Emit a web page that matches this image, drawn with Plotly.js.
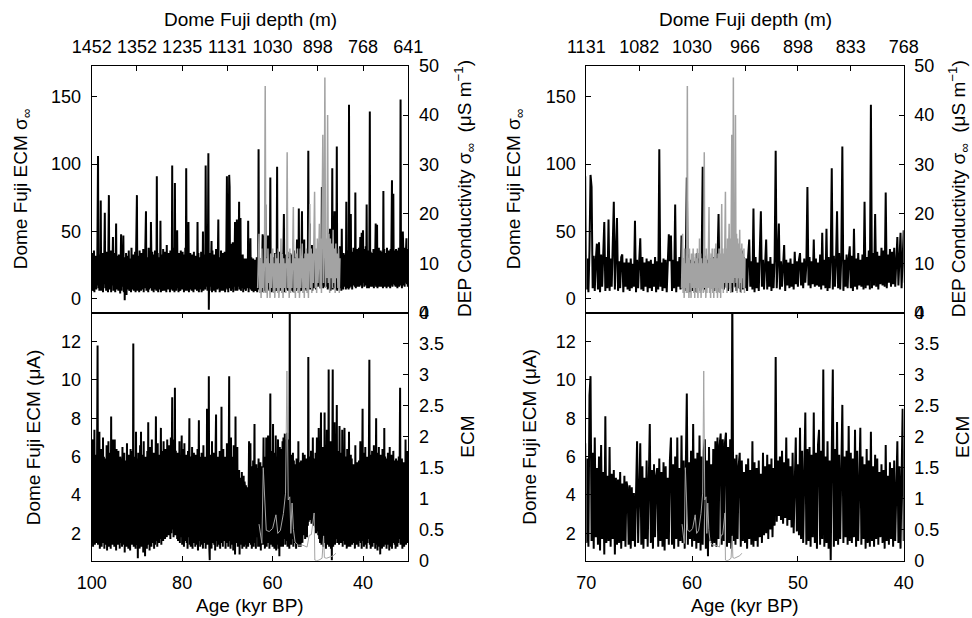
<!DOCTYPE html>
<html><head><meta charset="utf-8">
<script src="https://cdn.plot.ly/plotly-3.0.1.min.js"></script>
<style>html,body{margin:0;padding:0;background:#fff}#chart{width:972px;height:618px}</style>
</head><body><div id="chart"></div>
<script>
// ---- black Dome Fuji ECM series, sampled every 0.1 kyr from 100.0 to 30.0 kyr BP ----
const ageStart = 100, ageStep = 0.1;
const ecmSigma = [
12,34,6,28,9,36,5,30,8,32, 7,31,10,38,106,8,33,6,29,9, 73,6,30,9,34,5,28,11,32,64, 8,29,6,35,9,27,5,33,77,7,
30,8,36,5,28,10,31,46,6,34, 9,30,5,37,56,7,32,10,29,6, 33,8,28,4,36,48,6,30,9,35, 47,5,31,-1,27,6,34,3,29,7,
32,9,36,6,28,8,30,5,38,7, 29,10,33,6,30,8,35,5,28,47, 77,6,32,9,29,5,36,8,31,6, 34,7,28,10,37,5,30,8,33,44,
65,6,31,9,27,5,38,7,32,10, 8,57,30,6,35,9,28,5,33,7, 36,8,30,6,91,9,34,5,29,8, 31,7,58,5,33,9,28,6,37,8,
30,6,35,10,28,5,40,8,32,7, 34,9,29,5,36,7,31,8,99,6, 33,7,38,5,86,9,30,6,35,51, 8,30,5,34,9,28,6,36,10,31,
7,35,8,29,5,33,9,38,6,97, 8,31,6,36,57,5,30,9,34,7, 29,6,33,10,27,5,35,8,30,7, 32,9,28,6,57,8,34,5,31,10,
29,7,35,5,30,9,50,6,33,8, 31,7,99,35,9,40,6,38,108,-8, 30,6,34,9,28,43,5,36,8,31, 6,33,9,29,5,37,8,30,7,35,
59,8,31,5,28,9,36,6,30,7, 34,6,29,10,35,5,31,8,38,91, 7,30,5,36,92,83,8,32,6,29, 41,7,42,5,33,9,28,57,6,31,
8,59,6,30,9,34,72,7,29,60, 6,28,8,31,33,5,27,9,30,7, 27,6,30,8,26,9,58,5,29,8, 28,45,7,31,6,27,9,30,5,28,
8,29,6,26,9,31,5,28,7,111, 9,27,6,30,8,29,5,26,48,28, 47,6,29,8,70,5,28,9,31,7, 47,8,30,6,27,90,9,33,5,29,
6,31,8,28,5,34,9,30,6,27, 98,7,32,5,29,9,35,6,30,8, 31,6,34,9,28,63,5,30,8,33, 7,29,9,35,6,31,8,28,5,34,
9,30,6,33,8,27,5,36,7,31, 8,30,6,32,44,9,28,7,67,5, 31,8,27,6,33,65,9,29,7,30, 44,7,28,9,31,6,26,8,30,110,
8,30,56,7,28,9,31,40,6,29, 10,27,8,30,9,26,7,35,11,28, 9,29,34,10,27,8,30,12,26,83, 10,31,8,28,11,44,9,30,10,27,
9,33,7,49,10,29,8,52,6,31, 8,30,97,7,32,9,28,65,8,34, 7,31,113,6,29,9,33,8,30,39, 8,32,6,52,9,30,7,34,10,29,
9,33,7,72,8,31,10,36,7,144, 8,34,10,63,9,35,7,32,11,38, 10,36,9,79,8,33,12,37,9,35, 11,38,9,35,46,10,36,49,8,34,
51,12,37,9,34,10,39,11,70,8, 36,10,33,8,38,139,9,35,11,32, 9,34,12,37,8,31,10,36,56,9, 12,55,8,33,10,38,9,32,11,36,
9,35,11,31,8,80,10,37,9,33, 11,34,8,38,10,32,9,36,12,33, 8,37,10,35,88,9,34,78,11,36, 10,33,9,37,12,34,8,36,10,38,
9,35,11,148,10,37,8,34,50,36, 10,38,9,34,12,36,45,11,37,9, 35];
const ecmCurrent = [
1.6,5.8,6.9,1.3,5.2,1.8,7.4,1.4,6.1,1.7, 5.5,1.5,7.3,11.8,1.4,6.2,1.9,7.3,1.2,5.8, 1.7,6.4,1.3,5.6,2.0,7.0,1.5,6.0,1.2,5.3,
1.9,5.9,1.4,6.6,1.1,5.4,1.8,6.8,1.3,5.7, 1.5,6.2,1.2,8.1,1.7,5.5,1.4,6.9,1.9,5.1, 1.3,6.9,1.6,5.3,1.1,6.4,1.8,5.9,1.4,6.3,
1.7,5.2,1.2,6.0,5.7,1.5,4.8,1.3,6.5,1.8, 5.4,1.4,6.2,1.0,5.0,1.7,5.8,1.3,6.7,1.6, 4.9,1.2,6.1,1.8,5.6,1.1,6.4,1.5,5.2,1.4,
6.3,1.6,11.9,1.3,5.7,1.8,6.0,1.2,7.3,1.5, 1.4,5.9,0.7,6.2,1.6,5.5,1.2,6.6,1.9,7.3, 1.3,6.1,1.7,5.3,1.0,6.8,1.5,5.7,0.8,6.0,
1.6,5.4,1.2,6.3,1.8,7.8,1.4,5.8,1.1,6.5, 1.7,5.6,1.3,6.9,1.5,5.1,1.9,6.2,1.2,5.9, 1.4,6.0,8.1,1.6,5.5,1.3,6.7,1.8,5.3,1.5,
6.1,1.7,5.8,7.5,1.4,6.3,1.9,5.6,1.6,6.8, 2.0,5.9,1.7,6.4,2.2,5.5,1.8,6.9,2.1,6.2, 1.9,6.6,2.3,5.8,1.7,7.0,2.0,6.1,9.1,2.2,
6.5,1.8,6.9,2.1,9.6,1.9,6.3,2.4,5.8,1.7, 6.2,1.6,5.7,1.9,6.8,1.5,6.0,1.8,5.5,7.1, 1.4,6.4,1.7,5.9,1.3,6.7,1.6,5.2,1.9,6.1,
1.5,5.8,1.2,6.3,1.8,5.6,8.0,1.4,6.0,1.3, 5.7,1.6,6.5,1.2,5.4,1.9,6.2,1.5,5.9,1.3, 6.1,1.7,5.6,1.4,6.4,1.1,5.8,7.9,1.6,6.0,
1.3,5.5,1.8,6.2,1.4,5.9,1.2,6.6,1.7,5.3, 1.5,6.0,1.2,5.7,1.9,8.5,1.4,6.3,1.6,10.2, 1.3,0.6,6.1,1.7,5.4,1.2,6.8,1.5,5.6,1.9,
6.2,1.4,5.9,1.1,6.5,8.2,1.6,5.7,1.3,6.0, 1.7,5.5,1.4,6.3,1.2,5.8,1.8,8.6,1.5,6.1, 1.3,6.4,1.6,5.6,1.9,6.0,1.2,5.3,1.7,6.7,
1.5,5.9,1.3,9.2,10.2,1.6,6.2,1.2,7.0,1.8, 5.4,1.4,6.0,1.1,6.6,1.7,5.2,0.9,8.1,1.5, 5.0,1.6,6.5,1.3,5.1,1.7,5.3,0.9,4.9,1.4,
4.8,1.5,5.2,1.2,4.6,1.6,5.0,1.3,4.7,4.4, 1.4,4.5,1.2,4.4,1.6,4.1,1.3,4.6,6.8,1.5, 5.2,6.7,1.4,5.5,1.2,4.9,1.7,5.8,1.3,5.1,
7.7,1.5,5.3,1.2,5.6,1.8,5.0,5.4,1.3,5.9, 1.6,5.2,1.3,5.7,1.1,5.5,1.7,4.9,1.4,5.8, 7.0,1.4,5.6,1.2,6.0,1.7,7.0,1.3,5.4,1.6,
7.1,1.5,5.8,1.2,6.1,9.3,1.4,5.7,1.7,6.3, 1.3,7.7,1.6,5.9,1.2,6.2,1.5,7.1,1.1,6.0, 1.4,6.3,6.9,1.2,5.8,0.8,6.5,1.6,5.6,1.3,
6.4,1.5,6.8,1.3,7.0,1.7,6.6,7.2,1.4,6.9, 1.6,6.7,7.25,1.3,6.5,1.5,6.9,1.2,14.5,1.6, 5.9,1.4,6.1,1.7,5.5,6.2,1.3,5.8,1.6,5.2,
1.5,5.6,1.2,5.9,1.7,5.3,1.4,6.8,1.3,5.7, 1.6,5.4,1.3,5.8,1.8,5.1,1.5,6.2,1.9,5.5, 2.0,6.1,1.7,5.6,2.2,5.9,1.8,5.4,2.4,11.2,
2.6,5.8,2.9,6.0,2.7,6.3,2.5,5.7,2.8,7.0, 2.4,5.9,2.7,5.5,2.3,6.2,2.0,5.8,7.0,2.1, 5.6,1.9,7.5,1.7,6.3,1.5,6.0,8.3,1.4,6.4,
1.6,6.5,1.3,6.1,1.8,8.3,1.5,6.2,1.2,6.6, 7.4,1.4,6.3,1.7,10.55,1.3,6.0,1.5,6.8,1.2, 5.8,0.6,6.2,10.55,1.3,6.4,1.6,7.8,1.4,6.1,
1.7,6.5,8.7,1.5,6.0,1.8,6.3,1.4,7.6,1.6, 6.2,1.5,5.9,1.8,7.4,1.3,6.3,1.6,5.7,7.5, 1.4,6.0,1.7,5.6,1.2,6.4,1.5,5.8,1.3,7.3,
1.6,5.5,1.3,6.1,1.7,5.9,1.4,5.2,1.8,5.6, 1.5,5.3,1.2,6.6,1.6,5.0,1.4,5.7,1.7,5.4, 1.3,5.8,1.6,5.1,6.8,1.5,5.5,1.2,5.9,8.5,
1.6,6.2,1.3,5.7,1.8,6.5,1.4,5.9,1.2,6.0, 1.5,5.8,1.7,6.4,11.05,1.4,6.1,1.2,5.6,1.6, 6.3,1.3,5.9,1.7,6.6,1.5,5.4,1.2,6.0,8.0,
1.4,6.2,1.1,5.7,1.6,6.5,1.3,5.5,0.9,6.1, 1.5,5.8,1.2,6.4,1.7,5.6,1.3,7.5,1.4,6.0, 1.6,5.3,1.2,5.9,1.8,6.2,1.4,5.6,1.1,6.5,
1.3,5.7,1.6,6.1,1.2,5.4,1.5,6.3,1.7,5.8, 1.4,5.5,1.2,5.9,1.6,5.2,1.3,5.8,1.5,6.0, 1.7,5.6,9.6,1.4,5.3,1.6,5.9,1.2,5.1,1.5,
5.7,1.3,5.4,1.6,6.9,1.4,5.2,1.7,6.3,1.5, 5.5];

// ---- grey DEP conductivity (uS/m), evenly spaced samples over the record ----
const depValues = [
5,12,16,4,11,3,13,5,10,4, 12,45.9,4,11,3,13,6,10,3,12, 5,11,13,4,10,3,12,5,11,4, 13,3,10,5,15,4,12,3,11,5,
10,4,12,32.5,5,11,3,13,4,10, 5,12,21.4,4,11,3,12,5,13,4, 11,3,13,5,12,14,4,11,3,12, 5,13,4,12,3,14,22,5,13,4,
12,6,14,24.5,5,13,4,15,6,14, 18,5,15,4,16,36,6,14,47.6,5, 15,7,40,6,16,4,15,7,14,5, 16.8,6,13,4,14,7,12,5,13,4,11];
const depAgeLeft = [63.3, 45.1];
const depAgeRight = [61.0, 55.0];

// ---- grey ECM (right axis), position along record (0..1) and value ----
const ecmGrayPos = [0,0.037,0.055,0.094,0.133,0.177,0.22,0.244,0.278,0.317,0.345,0.363,0.38,0.40,0.414,0.43,0.448,0.469,0.513,0.57,0.625,0.653,0.68,0.717,0.726,0.75,0.78,0.82,0.84,0.85,0.878,0.906,0.965,1.0];
const ecmGrayVal = [0.59,0.28,1.5,0.49,0.47,0.52,0.74,0.44,0.49,0.76,1.09,3.06,0.98,1.03,0.44,0.93,0.5,0.30,0.25,0.25,0.22,0.41,0.42,0.77,0.01,0.0,0.01,0.04,0.4,0.05,0.04,0.05,0.08,0.12];
const ecmGrayAgeLeft = [63.0, 46.0];
const ecmGrayAgeRight = [60.95, 55.3];

// ---- tick labels ----
const depthTicksLeft = [100,90,80,70,60,50,40,30];
const depthLabelsLeft = ['1452','1352','1235','1131','1030','898','768','641'];
const depthTicksRight = [70,65,60,55,50,45,40];
const depthLabelsRight = ['1131','1082','1030','966','898','833','768'];

const ages = ecmSigma.map((_, i) => +(ageStart - i * ageStep).toFixed(2));
const lin = (r, n) => Array.from({length: n}, (_, i) => r[0] + (r[1] - r[0]) * i / (n - 1));
const mapPos = (r) => ecmGrayPos.map(p => r[0] + (r[1] - r[0]) * p);

const BLACK = '#000000', GREY = '#a3a3a3';
const FONT = 'Liberation Sans, Arial, Helvetica, sans-serif';
const W = 972, H = 618;
const px = v => v / W, py = v => (H - v) / H;

const data = [];
function addColumn(xb, xt, yb, yt, yb2, yt2, depR, ecmR) {
  data.push({x: ages, y: ecmSigma, xaxis: xt, yaxis: yt, type: 'scatter', mode: 'lines',
             line: {color: BLACK, width: 2}, hoverinfo: 'skip'});
  data.push({x: lin(depR, depValues.length), y: depValues, xaxis: xt, yaxis: yt2, type: 'scatter', mode: 'lines',
             line: {color: GREY, width: 1.5}, hoverinfo: 'skip'});
  data.push({x: ages, y: ecmCurrent, xaxis: xb, yaxis: yb, type: 'scatter', mode: 'lines',
             line: {color: BLACK, width: 2}, hoverinfo: 'skip'});
  data.push({x: mapPos(ecmR), y: ecmGrayVal, xaxis: xb, yaxis: yb2, type: 'scatter', mode: 'lines',
             line: {color: GREY, width: 1}, hoverinfo: 'skip'});
}
addColumn('x', 'x2', 'y', 'y2', 'y3', 'y4', depAgeLeft, ecmGrayAgeLeft);
addColumn('x3', 'x4', 'y5', 'y6', 'y7', 'y8', depAgeRight, ecmGrayAgeRight);

const tickFont = {family: FONT, size: 18, color: '#000'};
const base = {showgrid: false, zeroline: false, showline: true, linecolor: '#000', linewidth: 1,
              ticks: 'inside', ticklen: 5, tickcolor: '#000', tickwidth: 1, tickfont: tickFont};
const yBot = [py(560.7), py(312.7)], yTop = [py(312.7), py(65.7)];
const dL = [px(91.7), px(408.3)], dR = [px(586.3), px(903.7)];

const layout = {
  width: W, height: H, autosize: false, showlegend: false,
  margin: {l: 0, r: 0, t: 0, b: 0, pad: 0},
  paper_bgcolor: '#fff', plot_bgcolor: 'rgba(0,0,0,0)',
  font: {family: FONT, size: 18, color: '#000'},
  // left column
  xaxis: Object.assign({}, base, {domain: dL, anchor: 'y', range: [100, 29.99], tickvals: [100, 80, 60, 40], mirror: 'ticks', ticklabelstandoff: 6}),
  xaxis2: Object.assign({}, base, {domain: dL, anchor: 'y2', side: 'top', range: [100, 29.99], tickvals: depthTicksLeft, ticktext: depthLabelsLeft, mirror: true, ticklabelstandoff: 5}),
  yaxis: Object.assign({}, base, {domain: yBot, anchor: 'x', range: [0.57, 13.51], tickvals: [2, 4, 6, 8, 10, 12], ticklabelstandoff: 6}),
  yaxis2: Object.assign({}, base, {domain: yTop, anchor: 'x2', range: [-10.2, 173], tickvals: [0, 50, 100, 150], ticklabelstandoff: 6}),
  yaxis3: Object.assign({}, base, {overlaying: 'y', side: 'right', anchor: 'x', range: [0, 4], tickvals: [0, 0.5, 1, 1.5, 2, 2.5, 3, 3.5, 4], ticklabelstandoff: 6}),
  yaxis4: Object.assign({}, base, {overlaying: 'y2', side: 'right', anchor: 'x2', range: [0, 50], tickvals: [0, 10, 20, 30, 40, 50], ticklabelstandoff: 6}),
  // right column
  xaxis3: Object.assign({}, base, {domain: dR, anchor: 'y5', range: [70, 40], tickvals: [70, 60, 50, 40], mirror: 'ticks', ticklabelstandoff: 6}),
  xaxis4: Object.assign({}, base, {domain: dR, anchor: 'y6', side: 'top', range: [70, 40], tickvals: depthTicksRight, ticktext: depthLabelsRight, mirror: true, ticklabelstandoff: 5}),
  yaxis5: Object.assign({}, base, {domain: yBot, anchor: 'x3', range: [0.57, 13.51], tickvals: [2, 4, 6, 8, 10, 12], ticklabelstandoff: 6}),
  yaxis6: Object.assign({}, base, {domain: yTop, anchor: 'x4', range: [-10.2, 173], tickvals: [0, 50, 100, 150], ticklabelstandoff: 6}),
  yaxis7: Object.assign({}, base, {overlaying: 'y5', side: 'right', anchor: 'x3', range: [0, 4], tickvals: [0, 0.5, 1, 1.5, 2, 2.5, 3, 3.5, 4], ticklabelstandoff: 6}),
  yaxis8: Object.assign({}, base, {overlaying: 'y6', side: 'right', anchor: 'x4', range: [0, 50], tickvals: [0, 10, 20, 30, 40, 50], ticklabelstandoff: 6}),
  annotations: []
};

const TF = {family: FONT, size: 19, color: '#000'};
function ann(text, x, y, angle) {
  layout.annotations.push({text: text, x: px(x), y: py(y), xref: 'paper', yref: 'paper', showarrow: false,
    xanchor: 'center', yanchor: 'middle', textangle: angle || 0, font: TF});
}
[[0, 250], [486, 745]].forEach(([o, cx]) => {
  ann('Dome Fuji depth (m)', cx, 19);
  ann('Age (kyr BP)', cx, 605);
});
ann('Dome Fuji ECM σ<sub>∞</sub>', 22.3, 189, -90);
ann('Dome Fuji ECM σ<sub>∞</sub>', 515.3, 189, -90);
ann('DEP Conductivity σ<sub>∞</sub>\u00a0\u00a0(μS m<sup>−1</sup>)', 465, 189, -90);
ann('DEP Conductivity σ<sub>∞</sub>\u00a0\u00a0(μS m<sup>−1</sup>)', 959.3, 189, -90);
ann('Dome Fuji ECM (μA)', 33.3, 437, -90);
ann('Dome Fuji ECM (μA)', 528.7, 437, -90);
ann('ECM', 466.7, 437, -90);
ann('ECM', 962, 437, -90);

Plotly.newPlot('chart', data, layout, {staticPlot: true, displayModeBar: false});
</script></body></html>
